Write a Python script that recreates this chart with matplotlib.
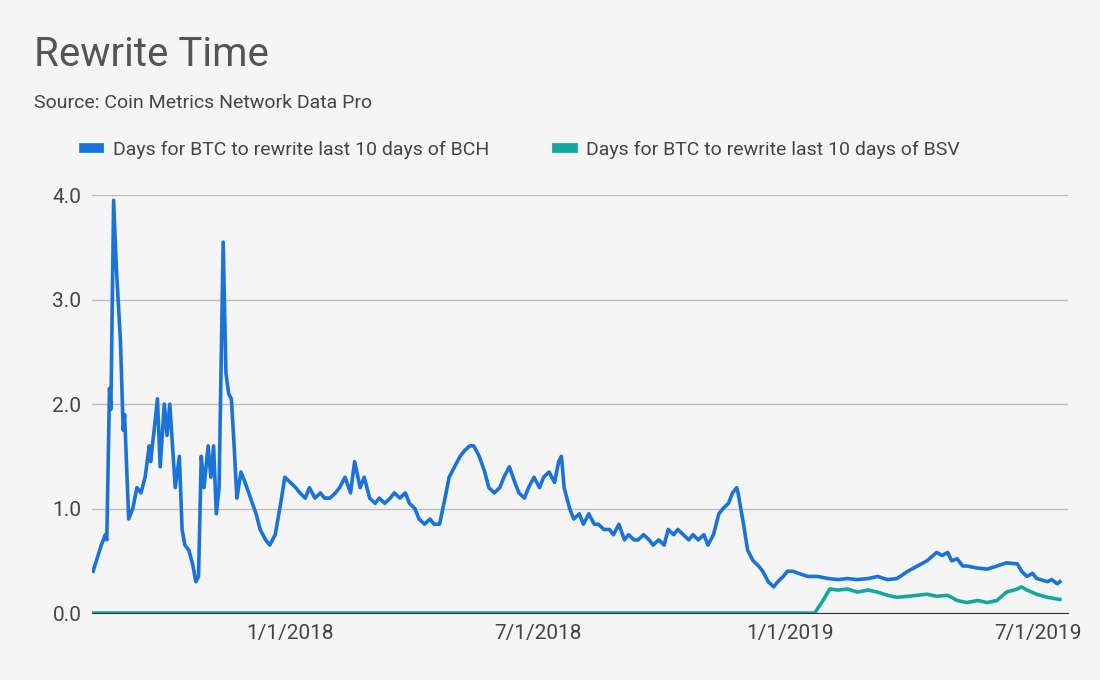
import matplotlib
matplotlib.use("Agg")
import matplotlib.pyplot as plt
import matplotlib.dates as mdates
import pandas as pd

start = pd.Timestamp("2017-08-10")
bch_days = [0,6,9,10,12,13,15,17,20,22,23,26,29,32,35,38,41,42,45,47,49,52,54,56,58,60,63,65,67,70,73,75,77,79,81,84,86,88,90,92,95,97,99,101,103,105,108,
            111,115,119,122,126,129,133,137,140,144,148,151,155,158,162,166,169,173,177,180,184,188,191,195,198,202,206,209,213,217,220,224,228,231,235,238,242,246,249,253,257,260,264,268,271,275,278,282,286,289,293,297,300,304,308,311,315,318,322,326,329,333,337,340,342,344,348,351,355,358,362,366,369,373,377,380,384,388,391,395,398,402,406,409,413,417,420,424,427,431,435,438,442,446,449,453,457,460,464,467,470,471,475,478,482,486,489,493,497,500,504,507,511,515,522,529,537,544,551,558,566,573,580,587,595,602,609,616,620,624,627,631,635,638,646,653,660,667,675,678,682,686,689,697,700,704,706]
bch_vals = [0.4,0.65,0.75,0.7,2.15,1.95,3.95,3.3,2.6,1.75,1.9,0.9,1.0,1.2,1.15,1.3,1.6,1.45,1.8,2.05,1.4,2.0,1.7,2.0,1.6,1.2,1.5,0.8,0.65,0.6,0.45,0.3,0.35,1.5,1.2,1.6,1.3,1.6,0.95,1.2,3.55,2.3,2.1,2.05,1.6,1.1,1.35,
            1.25,1.1,0.95,0.8,0.7,0.65,0.75,1.05,1.3,1.25,1.2,1.15,1.1,1.2,1.1,1.15,1.1,1.1,1.15,1.2,1.3,1.15,1.45,1.2,1.3,1.1,1.05,1.1,1.05,1.1,1.15,1.1,1.15,1.05,1.0,0.9,0.85,0.9,0.85,0.85,1.1,1.3,1.4,1.5,1.55,1.6,1.6,1.5,1.35,1.2,1.15,1.2,1.3,1.4,1.25,1.15,1.1,1.2,1.3,1.2,1.3,1.35,1.25,1.45,1.5,1.2,1.0,0.9,0.95,0.85,0.95,0.85,0.85,0.8,0.8,0.75,0.85,0.7,0.75,0.7,0.7,0.75,0.7,0.65,0.7,0.65,0.8,0.75,0.8,0.75,0.7,0.75,0.7,0.75,0.65,0.75,0.95,1.0,1.05,1.15,1.2,1.15,0.85,0.6,0.5,0.45,0.4,0.3,0.25,0.3,0.35,0.4,0.4,0.38,0.35,0.35,0.33,0.32,0.33,0.32,0.33,0.35,0.32,0.33,0.4,0.45,0.5,0.58,0.55,0.58,0.5,0.52,0.45,0.45,0.43,0.42,0.45,0.48,0.47,0.4,0.35,0.38,0.33,0.3,0.32,0.28,0.3]
bsv_days = [0,527,533,538,544,551,558,566,573,580,587,595,602,609,616,624,631,638,646,653,660,667,675,678,682,689,697,706]
bsv_vals = [0,0,0.12,0.23,0.22,0.23,0.2,0.22,0.2,0.17,0.15,0.16,0.17,0.18,0.16,0.17,0.12,0.1,0.12,0.1,0.12,0.2,0.23,0.25,0.22,0.18,0.15,0.13]
tick_dates = ["2018-01-01","2018-07-01","2019-01-01","2019-07-01"]
tick_labels = ["1/1/2018","7/1/2018","1/1/2019","7/1/2019"]
yticks = [0,1,2,3,4]

plt.rcParams["font.family"] = "Roboto"
bg = "#f5f5f5"
fig = plt.figure(figsize=(11,6.8), dpi=100, facecolor=bg)
ax = fig.add_axes([0.084,0.0985,0.887,0.6145], facecolor=bg)
bd = [start+pd.Timedelta(days=d) for d in bch_days]
sd = [start+pd.Timedelta(days=d) for d in bsv_days]
ax.plot(bd, bch_vals, color="#1a73d8", lw=2.6, label="Days for BTC to rewrite last 10 days of BCH", zorder=3)
ax.plot(sd, bsv_vals, color="#12a89d", lw=2.6, label="Days for BTC to rewrite last 10 days of BSV", zorder=3)
ax.set_ylim(0,4.0)
ax.set_xlim(start - pd.Timedelta(days=0.5), pd.Timestamp("2019-07-23"))
ax.set_yticks(yticks)
ax.set_yticklabels([f"{v:.1f}" for v in yticks])
ax.set_xticks([pd.Timestamp(t) for t in tick_dates])
ax.set_xticklabels(tick_labels)
ax.grid(axis="y", color="#bdbdbd", lw=1)
ax.set_axisbelow(True)
for s in ax.spines.values(): s.set_visible(False)
ax.spines["bottom"].set_visible(True); ax.spines["bottom"].set_color("#333333")
ax.tick_params(length=0, labelsize=15, colors="#444444", pad=8)
fig.text(0.031,0.92,"Rewrite Time",fontsize=29,color="#555555",va="center")
fig.text(0.031,0.848,"Source: Coin Metrics Network Data Pro",fontsize=14,color="#444444",va="center")
fig.legend(loc="center left", bbox_to_anchor=(0.06,0.78), ncol=2, frameon=False, fontsize=14,
           labelcolor="#444444", handlelength=0.8, handleheight=0.8, columnspacing=3.5, handletextpad=0.7)
leg = fig.legends[0]
for h in leg.legend_handles: h.set_linewidth(7)
fig.savefig("out.png", dpi=100, facecolor=bg)
